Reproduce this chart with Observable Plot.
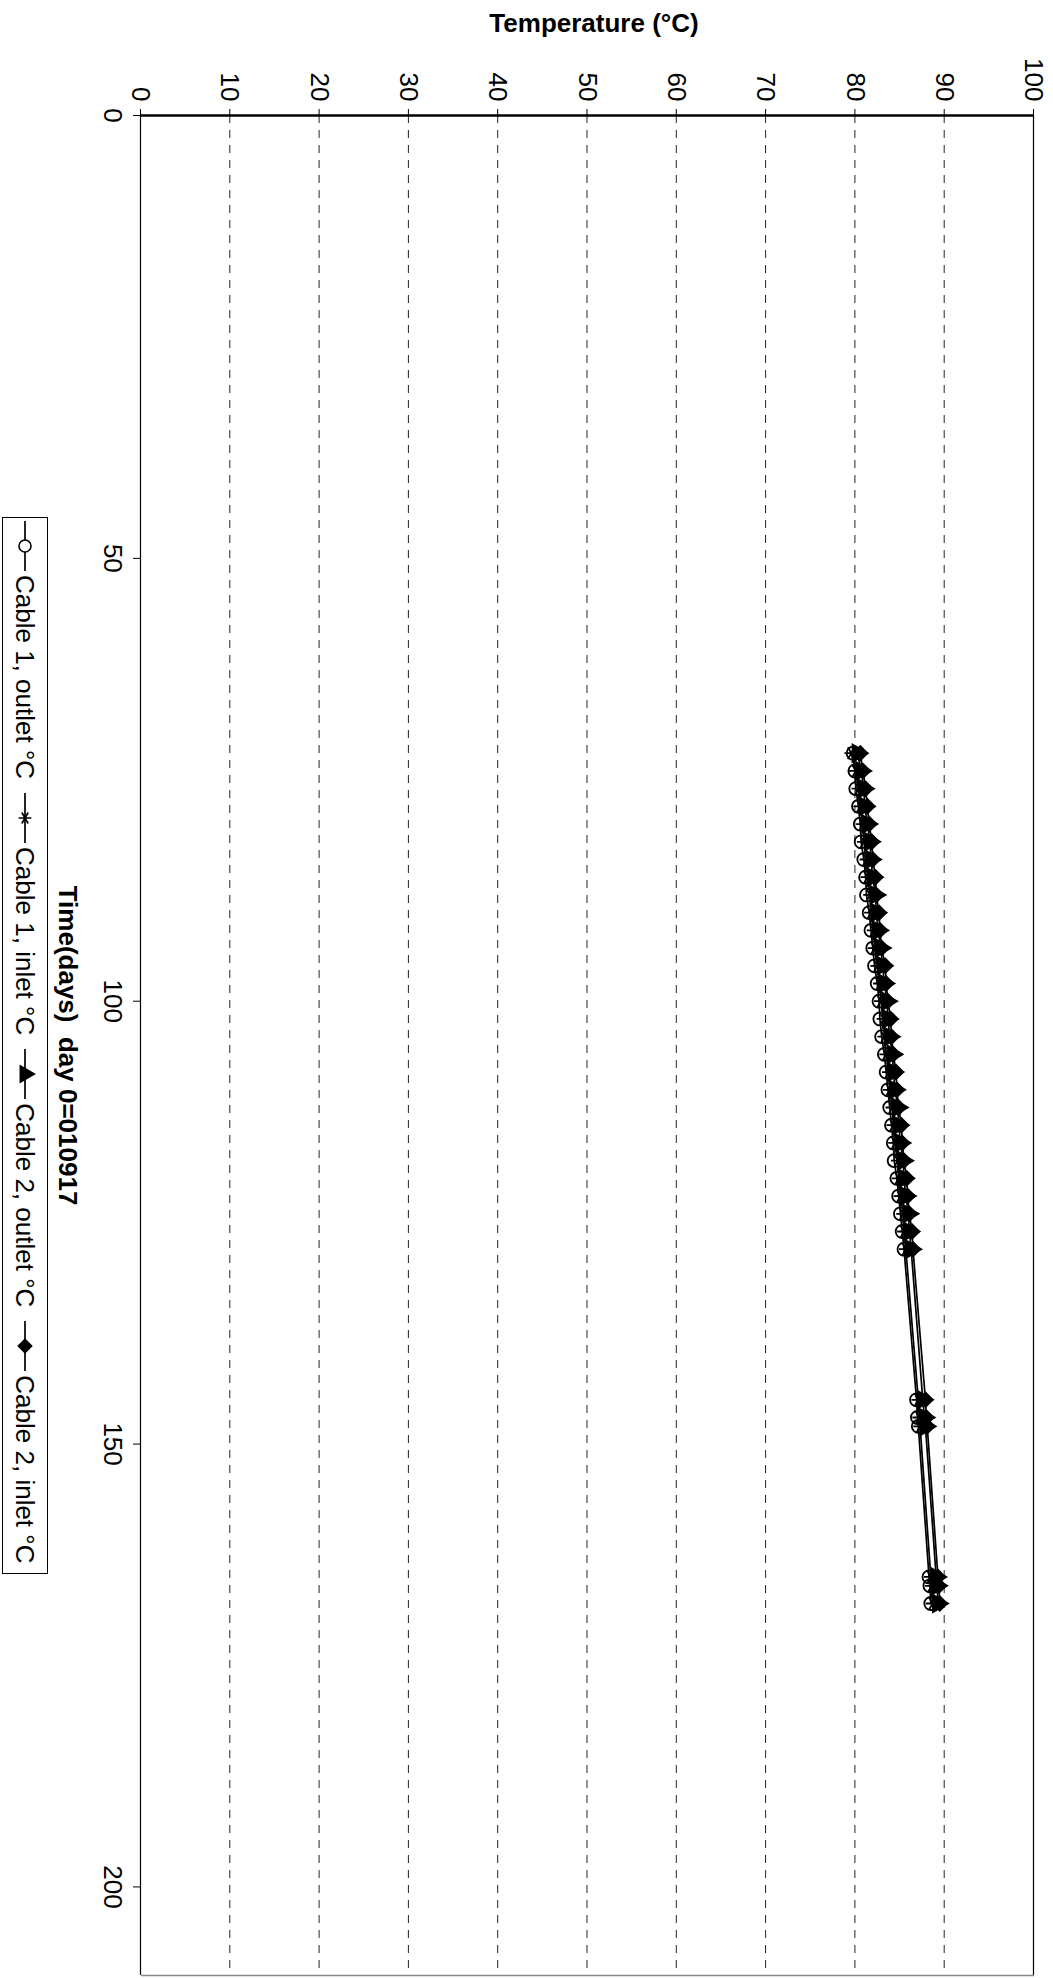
<!DOCTYPE html>
<html>
<head>
<meta charset="utf-8">
<script src="https://cdn.jsdelivr.net/npm/d3@7"></script>
<script src="https://cdn.jsdelivr.net/npm/@observablehq/plot@0.6"></script>
<style>
  html, body { margin: 0; padding: 0; background: white; }
  #page { position: relative; width: 1053px; height: 1978px; overflow: hidden; background: white; }
  #inner { position: absolute; left: 0; top: 0; width: 1978px; height: 1053px;
           transform-origin: 0 0; transform: translate(1053px, 0) rotate(90deg); }
  #legend { position: absolute; left: 517px; top: 1005px; width: 1057px; height: 46px;
            border: 1px solid #000; display: flex; align-items: center; box-sizing: border-box;
            padding-left: 2px;
            font-family: "Liberation Sans", Arial, sans-serif; font-size: 26px; color: #000; }
  .item { display: flex; align-items: center; margin-right: 13px; white-space: pre; }
  .item svg { margin-right: 3px; }
</style>
</head>
<body>
<div id="page"><div id="inner"><div id="chart"></div><div id="legend"></div></div></div>
<script>
// ---- data ----
const seriesNames = ["Cable 1, outlet °C", "Cable 1, inlet °C", "Cable 2, outlet °C", "Cable 2, inlet °C"];
const days = [72, 74, 76, 78, 80, 82, 84, 86, 88, 90, 92, 94, 96, 98, 100, 102, 104, 106, 108, 110,
              112, 114, 116, 118, 120, 122, 124, 126, 128, 145, 147, 148, 165, 166, 168];
const cable1Outlet = [79.8, 80.0, 80.1, 80.4, 80.6, 80.7, 81.0, 81.2, 81.3, 81.6, 81.8, 82.0, 82.2, 82.5, 82.7,
                      82.8, 83.0, 83.3, 83.5, 83.7, 83.9, 84.1, 84.3, 84.4, 84.7, 84.9, 85.1, 85.3, 85.5,
                      86.9, 87.0, 87.1, 88.3, 88.4, 88.5];
const cable1Inlet  = [79.6, 80.1, 80.4, 80.6, 80.9, 81.0, 81.3, 81.4, 81.7, 81.8, 82.1, 82.2, 82.5, 82.8, 82.9,
                      83.2, 83.3, 83.5, 83.8, 83.9, 84.2, 84.3, 84.5, 84.8, 84.9, 85.1, 85.4, 85.5, 85.7,
                      87.1, 87.2, 87.3, 88.5, 88.6, 88.7];
const cable2Outlet = [80.3, 80.7, 81.0, 81.1, 81.4, 81.7, 81.8, 82.0, 82.3, 82.4, 82.6, 82.9, 83.1, 83.3, 83.6,
                      83.7, 83.9, 84.2, 84.3, 84.5, 84.8, 84.9, 85.1, 85.4, 85.5, 85.7, 86.0, 86.1, 86.3,
                      87.6, 87.8, 87.9, 89.1, 89.2, 89.3];
const cable2Inlet  = [80.6, 80.9, 81.2, 81.4, 81.6, 81.9, 82.0, 82.3, 82.4, 82.7, 82.8, 83.0, 83.4, 83.5, 83.7,
                      84.0, 84.1, 84.3, 84.6, 84.7, 84.9, 85.2, 85.3, 85.5, 85.8, 85.9, 86.1, 86.4, 86.5,
                      87.9, 88.0, 88.1, 89.3, 89.4, 89.5];
const seriesValues = [cable1Outlet, cable1Inlet, cable2Outlet, cable2Inlet];
const dayTicks = [0, 50, 100, 150, 200];
const tempTicks = [0, 10, 20, 30, 40, 50, 60, 70, 80, 90, 100];
const gridTemps = [10, 20, 30, 40, 50, 60, 70, 80, 90];
const xTitle = "Time(days)\u00a0\u00a0day 0=010917";
const yTitle = "Temperature (°C)";

// ---- styles per series ----
const symbols = ["circle", "asterisk", "triangle", "diamond2"];
const fills = ["none", "none", "black", "black"];

const rows = [];
seriesNames.forEach((s, i) => days.forEach((d, j) => rows.push({series: s, day: d, temp: seriesValues[i][j]})));

const dotMarks = seriesNames.map((s, i) => Plot.dot(rows.filter(r => r.series === s), {
  x: "day", y: "temp", symbol: () => symbols[i], r: 6.5,
  fill: fills[i], stroke: "black", strokeWidth: 1.8
}));

const chart = Plot.plot({
  width: 1978,
  height: 1003,
  marginLeft: 115,
  marginRight: 3,
  marginTop: 19,
  marginBottom: 91,
  style: {fontFamily: "'Liberation Sans', Arial, sans-serif", fontSize: "26px", background: "white", color: "black"},
  x: {domain: [0, 210]},
  y: {domain: [0, 100]},
  symbol: {type: "identity"},
  marks: [
    Plot.ruleY(gridTemps, {stroke: "#222", strokeWidth: 1, strokeDasharray: "8,7"}),
    Plot.ruleY([0], {stroke: "black", strokeWidth: 1.2}),
    Plot.ruleY([100], {stroke: "black", strokeWidth: 1.2}),
    Plot.ruleX([210], {stroke: "#888", strokeWidth: 1.5}),
    Plot.ruleX([0], {stroke: "black", strokeWidth: 2.5}),
    Plot.axisX({ticks: dayTicks, tickSize: 8, tickPadding: 10, label: null, fontSize: 26}),
    Plot.axisY({ticks: tempTicks, tickSize: 6, tickPadding: 8, label: null, fontSize: 26}),
    Plot.line(rows, {x: "day", y: "temp", z: "series", stroke: "black", strokeWidth: 1.7}),
    ...dotMarks,
    Plot.text([xTitle], {frameAnchor: "bottom", dy: 82, dx: 0, text: d => d, textAnchor: "middle", fontWeight: "bold", fontSize: 26}),
    Plot.text([yTitle], {frameAnchor: "left", dx: -92, dy: -7, rotate: -90, textAnchor: "middle", text: d => d, fontWeight: "bold", fontSize: 26})
  ]
});
document.getElementById("chart").appendChild(chart);

// ---- legend (HTML, below the svg in unrotated frame) ----
const legend = d3.select("#legend");
seriesNames.forEach((s, i) => {
  const item = legend.append("div").attr("class", "item");
  const svg = item.append("svg").attr("width", 52).attr("height", 24);
  svg.append("line").attr("x1", 1).attr("x2", 51).attr("y1", 12).attr("y2", 12)
     .attr("stroke", "black").attr("stroke-width", 1.7);
  const sym = {circle: d3.symbolCircle, asterisk: d3.symbolAsterisk, triangle: d3.symbolTriangle, diamond2: d3.symbolDiamond2}[symbols[i]];
  svg.append("path").attr("d", d3.symbol(sym, Math.PI * 6 * 6)())
     .attr("transform", "translate(26,12)")
     .attr("fill", fills[i] === "none" ? "white" : "black").attr("stroke", "black").attr("stroke-width", 1.6);
  item.append("span").text(s);
});
</script>
</body>
</html>
